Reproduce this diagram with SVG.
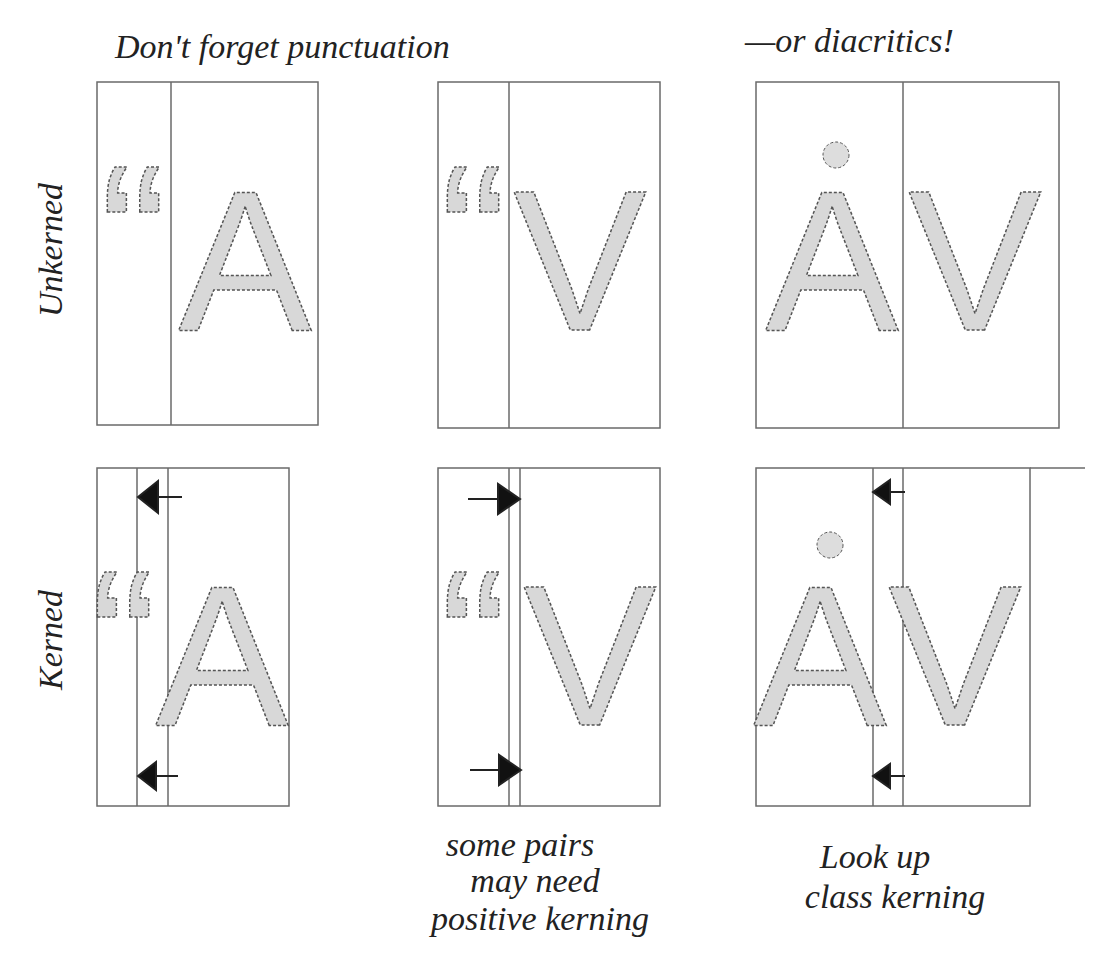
<svg xmlns="http://www.w3.org/2000/svg" width="1100" height="971" viewBox="0 0 1100 971">
<style>
.b{fill:none;stroke:#6a6a6a;stroke-width:1.5}
.g{font-family:"Liberation Sans",sans-serif;font-size:200px;fill:#d8d8d8;stroke:#555;stroke-width:1.5;stroke-dasharray:3 2}
.h{font-family:"Liberation Serif",serif;font-style:italic;fill:#222;font-size:34px}
.ar{stroke:#222;stroke-width:2;fill:#111}
</style>
<rect width="1100" height="971" fill="#fff"/>
<text class="h" x="115" y="58">Don't forget punctuation</text>
<text class="h" x="745" y="52">—or diacritics!</text>
<text class="h" transform="translate(62,250) rotate(-90)" text-anchor="middle">Unkerned</text>
<text class="h" transform="translate(62,640) rotate(-90)" text-anchor="middle">Kerned</text>
<g id="p1"><rect class="b" x="97" y="82" width="221" height="343"/><line class="b" x1="171" y1="82" x2="171" y2="425"/>
<text class="g" x="100" y="305">“</text><text class="g" x="245" y="330" text-anchor="middle">A</text></g>
<g id="p2"><rect class="b" x="438" y="82" width="222" height="346"/><line class="b" x1="509" y1="82" x2="509" y2="428"/>
<text class="g" x="440" y="305">“</text><text class="g" x="580" y="330" text-anchor="middle">V</text></g>
<g id="p3"><rect class="b" x="756" y="82" width="303" height="346"/><line class="b" x1="903" y1="82" x2="903" y2="428"/>
<circle cx="836" cy="155" r="13" fill="#ddd" stroke="#555" stroke-dasharray="3 2"/>
<text class="g" x="832" y="330" text-anchor="middle">A</text><text class="g" x="975" y="330" text-anchor="middle">V</text></g>
<g id="p4"><rect class="b" x="97" y="468" width="192" height="338"/><line class="b" x1="137" y1="468" x2="137" y2="806"/><line class="b" x1="168" y1="468" x2="168" y2="806"/>
<text class="g" x="90" y="710">“</text><text class="g" x="222" y="725" text-anchor="middle">A</text></g>
<g id="p5"><rect class="b" x="438" y="468" width="222" height="338"/><line class="b" x1="509" y1="468" x2="509" y2="806"/><line class="b" x1="520" y1="468" x2="520" y2="806"/>
<text class="g" x="440" y="710">“</text><text class="g" x="590" y="725" text-anchor="middle">V</text></g>
<g id="p6"><rect class="b" x="756" y="468" width="274" height="338"/><line class="b" x1="1030" y1="468" x2="1085" y2="468"/><line class="b" x1="873" y1="468" x2="873" y2="806"/><line class="b" x1="903" y1="468" x2="903" y2="806"/>
<circle cx="830" cy="545" r="13" fill="#ddd" stroke="#555" stroke-dasharray="3 2"/>
<text class="g" x="820" y="725" text-anchor="middle">A</text><text class="g" x="955" y="725" text-anchor="middle">V</text></g>
<g id="connectors">
<line class="ar" x1="182" y1="497" x2="150" y2="497"/><polygon class="ar" points="138,497 158,481 158,513"/>
<line class="ar" x1="178" y1="776" x2="150" y2="776"/><polygon class="ar" points="138,776 156,762 156,790"/>
<line class="ar" x1="468" y1="499" x2="505" y2="499"/><polygon class="ar" points="520,499 498,484 498,514"/>
<line class="ar" x1="470" y1="770" x2="505" y2="770"/><polygon class="ar" points="521,770 499,755 499,785"/>
<line class="ar" x1="905" y1="492" x2="885" y2="492"/><polygon class="ar" points="873,492 890,480 890,504"/>
<line class="ar" x1="905" y1="776" x2="885" y2="776"/><polygon class="ar" points="873,776 890,764 890,788"/>
</g>
<text class="h" x="520" y="856" text-anchor="middle" font-size="32">some pairs</text>
<text class="h" x="535" y="892" text-anchor="middle" font-size="32">may need</text>
<text class="h" x="540" y="930" text-anchor="middle" font-size="32">positive kerning</text>
<text class="h" x="875" y="868" text-anchor="middle">Look up</text>
<text class="h" x="895" y="908" text-anchor="middle">class kerning</text>
</svg>
